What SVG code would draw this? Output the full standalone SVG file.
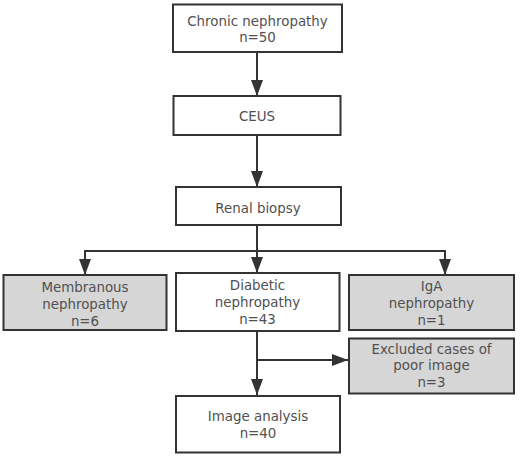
<svg xmlns="http://www.w3.org/2000/svg" width="520" height="458" viewBox="0 0 520 458">
<style>
.box{fill:#ffffff;stroke:#333333;stroke-width:2}
.grey{fill:#d6d6d6;stroke:#333333;stroke-width:2}
.t{font-family:"DejaVu Sans","Open Sans",sans-serif;font-size:13.4px;fill:#505050;text-anchor:middle}
.ln{stroke:#333333;stroke-width:2;fill:none}
</style>
<defs>
<marker id="ah" viewBox="0 0 16 12" refX="16" refY="6" markerWidth="16" markerHeight="12" markerUnits="userSpaceOnUse" orient="auto">
<path d="M0,0 L16,6 L0,12 Z" fill="#333333"/>
</marker>
</defs>
<rect width="520" height="458" fill="#ffffff"/>
<g id="connectors">
<line class="ln" x1="257" y1="52" x2="257" y2="96" marker-end="url(#ah)"/>
<line class="ln" x1="257" y1="135" x2="257" y2="187" marker-end="url(#ah)"/>
<line class="ln" x1="257" y1="225" x2="257" y2="273" marker-end="url(#ah)"/>
<line class="ln" x1="85" y1="251" x2="445" y2="251"/>
<line class="ln" x1="85" y1="250" x2="85" y2="275" marker-end="url(#ah)"/>
<line class="ln" x1="445" y1="250" x2="445" y2="275" marker-end="url(#ah)"/>
<line class="ln" x1="257" y1="331" x2="257" y2="395" marker-end="url(#ah)"/>
<line class="ln" x1="257" y1="360" x2="348" y2="360" marker-end="url(#ah)"/>
</g>
<g id="chronic">
<rect class="box" x="173" y="4.5" width="169" height="47.5"/>
<text class="t" x="257.5" y="26">Chronic nephropathy</text>
<text class="t" x="257.5" y="42">n=50</text>
</g>
<g id="ceus">
<rect class="box" x="173.5" y="96" width="167" height="39"/>
<text class="t" x="257" y="121">CEUS</text>
</g>
<g id="biopsy">
<rect class="box" x="176" y="187" width="165" height="38"/>
<text class="t" x="258" y="213">Renal biopsy</text>
</g>
<g id="membranous">
<rect class="grey" x="3.5" y="275" width="163" height="55"/>
<text class="t" x="85" y="292">Membranous</text>
<text class="t" x="85" y="309">nephropathy</text>
<text class="t" x="85" y="326">n=6</text>
</g>
<g id="diabetic">
<rect class="box" x="176" y="273" width="163.5" height="58"/>
<text class="t" x="257.5" y="290">Diabetic</text>
<text class="t" x="257.5" y="307">nephropathy</text>
<text class="t" x="257.5" y="324">n=43</text>
</g>
<g id="iga">
<rect class="grey" x="349" y="275" width="165" height="55"/>
<text class="t" x="431.5" y="291">IgA</text>
<text class="t" x="431.5" y="308">nephropathy</text>
<text class="t" x="431.5" y="325">n=1</text>
</g>
<g id="excluded">
<rect class="grey" x="349" y="338.5" width="165" height="55"/>
<text class="t" x="431.5" y="353.5">Excluded cases of</text>
<text class="t" x="431.5" y="370">poor image</text>
<text class="t" x="431.5" y="387">n=3</text>
</g>
<g id="analysis">
<rect class="box" x="176" y="396" width="164" height="56.5"/>
<text class="t" x="258" y="421">Image analysis</text>
<text class="t" x="258" y="437.5">n=40</text>
</g>
</svg>
